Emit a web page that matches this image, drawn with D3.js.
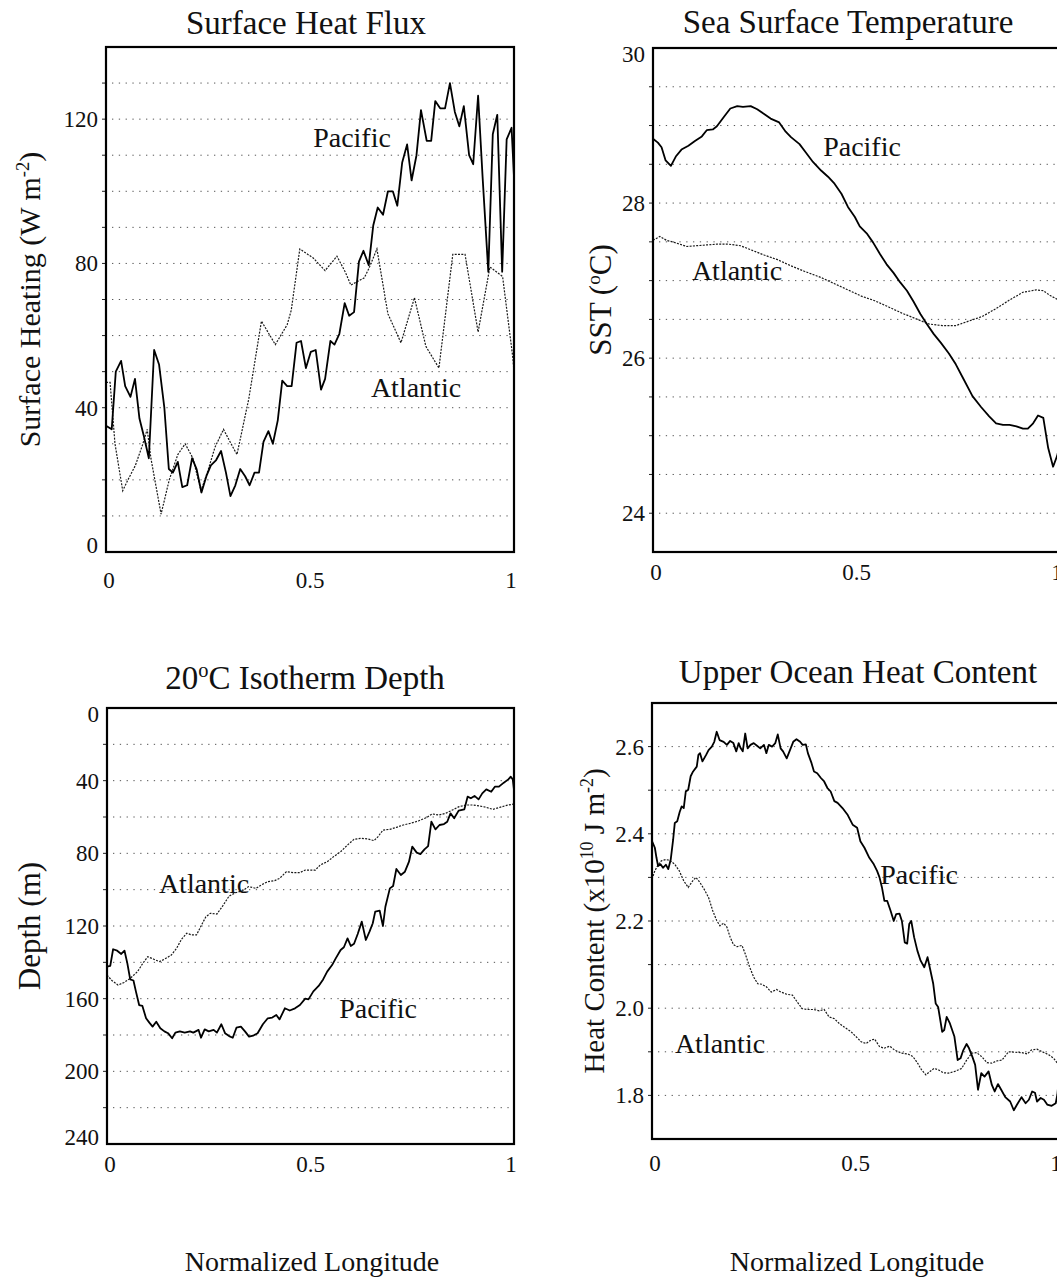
<!DOCTYPE html>
<html>
<head>
<meta charset="utf-8">
<script src="https://cdn.jsdelivr.net/npm/d3@7"></script>
<style>
  body { margin: 0; background: #fff; }
  svg { display: block; }
  text { font-family: "Liberation Serif", "Times New Roman", serif; fill: #111; }
</style>
</head>
<body>
<svg id="fig" width="1057" height="1279"></svg>
<script>

// ---- data: [normalized longitude, value] ----

var fluxPacific = [[0.000,35],[0.014,34],[0.024,50],[0.037,53],[0.047,46],[0.060,43],[0.071,48],[0.082,37],[0.093,32],[0.105,26],
  [0.118,56],[0.130,52],[0.143,40],[0.154,23],[0.164,22],[0.176,25],[0.187,18],[0.199,18.5],[0.211,26],[0.222,23],
  [0.234,16.5],[0.246,21],[0.257,24],[0.270,25.5],[0.282,28],[0.294,22],[0.305,15.5],[0.317,18.5],[0.329,23],[0.341,21],
  [0.352,18.5],[0.364,22],[0.375,22],[0.386,30.5],[0.398,33.5],[0.409,30],[0.421,36.5],[0.432,47.5],[0.444,46],[0.455,46],
  [0.467,58],[0.478,58.5],[0.490,51],[0.502,55.5],[0.514,56],[0.527,45],[0.537,48],[0.550,58.5],[0.560,57.5],[0.572,60.5],
  [0.585,69],[0.596,65.5],[0.608,66.5],[0.620,80.5],[0.631,83.5],[0.644,79.5],[0.655,90.5],[0.666,95.5],[0.679,93.5],[0.691,100],
  [0.703,100],[0.714,96],[0.726,108],[0.738,113],[0.749,103],[0.761,110],[0.772,122.5],[0.786,114],[0.797,114],[0.807,125],
  [0.819,123],[0.831,123],[0.843,130],[0.855,122],[0.866,118],[0.877,123.6],[0.890,110],[0.900,107.5],[0.912,126.5],[0.923,104],
  [0.937,77.7],[0.948,115.8],[0.959,121.2],[0.971,77.7],[0.982,114.4],[0.994,117.6],[1.000,104]];

var fluxAtlantic = [[0,47],[0.010,47],[0.022,30],[0.041,17],[0.056,20.5],[0.072,24],[0.089,29.5],[0.101,34],[0.110,26],[0.135,10.5],
  [0.155,20],[0.176,27],[0.194,30],[0.213,26],[0.233,17],[0.251,23],[0.267,29],[0.288,34],[0.309,29.5],[0.321,27],
  [0.350,42.5],[0.381,64],[0.415,57.5],[0.444,63],[0.454,67],[0.475,84],[0.508,81.5],[0.537,78],[0.566,82],[0.587,77.5],
  [0.600,74],[0.633,76],[0.644,78.5],[0.664,84],[0.691,66],[0.723,58],[0.756,70.5],[0.784,57],[0.816,51],[0.850,82.5],
  [0.880,82.5],[0.912,61],[0.941,79],[0.972,76.4],[0.997,54],[1.0,50]];

var sstPacific = [[0,28.83],[0.012,28.78],[0.021,28.72],[0.031,28.55],[0.044,28.48],[0.056,28.6],[0.070,28.69],[0.087,28.74],[0.103,28.8],[0.120,28.86],
  [0.132,28.94],[0.147,28.95],[0.157,28.99],[0.174,29.11],[0.190,29.22],[0.207,29.25],[0.221,29.24],[0.240,29.25],[0.256,29.21],[0.273,29.15],
  [0.289,29.09],[0.310,29.04],[0.326,28.92],[0.339,28.85],[0.360,28.76],[0.376,28.65],[0.393,28.53],[0.413,28.42],[0.430,28.34],[0.446,28.25],
  [0.463,28.12],[0.479,27.95],[0.496,27.82],[0.508,27.7],[0.525,27.61],[0.541,27.49],[0.558,27.34],[0.574,27.21],[0.591,27.1],[0.607,26.98],
  [0.624,26.87],[0.640,26.73],[0.657,26.57],[0.674,26.43],[0.690,26.31],[0.707,26.2],[0.727,26.06],[0.744,25.92],[0.760,25.76],[0.785,25.51],
  [0.806,25.37],[0.826,25.25],[0.843,25.16],[0.860,25.14],[0.876,25.14],[0.893,25.12],[0.909,25.09],[0.921,25.09],[0.934,25.16],[0.946,25.26],
  [0.959,25.23],[0.971,24.84],[0.983,24.6],[0.993,24.74],[1.0,24.9]];

var sstAtlantic = [[0,27.52],[0.017,27.57],[0.033,27.52],[0.054,27.49],[0.083,27.44],[0.107,27.45],[0.132,27.46],[0.157,27.47],[0.186,27.47],[0.215,27.45],
  [0.244,27.39],[0.273,27.33],[0.306,27.27],[0.339,27.19],[0.372,27.12],[0.413,27.04],[0.446,26.96],[0.479,26.88],[0.512,26.8],[0.545,26.74],
  [0.579,26.66],[0.612,26.58],[0.645,26.51],[0.678,26.44],[0.711,26.42],[0.744,26.42],[0.777,26.48],[0.810,26.54],[0.843,26.64],[0.876,26.75],
  [0.909,26.85],[0.942,26.88],[0.959,26.87],[0.975,26.81],[1.0,26.74]];

var depthPacific = [[0,142.4],[0.008,142],[0.015,132.8],[0.025,133.6],[0.035,135.4],[0.043,133.6],[0.050,140.6],[0.057,149.4],[0.065,150],[0.071,156],
  [0.079,163.5],[0.087,164],[0.096,170.8],[0.104,173.2],[0.112,175.4],[0.121,172.7],[0.131,176.3],[0.141,178],[0.150,179],[0.160,181.8],
  [0.168,178.7],[0.179,178],[0.191,178.7],[0.204,178],[0.212,178.7],[0.225,177.2],[0.231,181.5],[0.240,176.9],[0.250,178],[0.262,177.2],
  [0.270,178.7],[0.281,174.1],[0.290,179],[0.300,180.6],[0.309,181.5],[0.318,176],[0.329,175.4],[0.339,178],[0.349,180.9],[0.359,180.4],
  [0.370,179],[0.383,174.1],[0.395,170.8],[0.406,170.4],[0.416,169],[0.424,171.4],[0.437,165.3],[0.449,166.5],[0.462,165.3],[0.474,163.5],
  [0.487,160],[0.495,160.4],[0.507,156],[0.520,153],[0.531,149.4],[0.541,145.1],[0.553,141.5],[0.562,137.8],[0.574,133.2],[0.582,131.7],
  [0.591,126.8],[0.599,131],[0.607,129.8],[0.616,124.4],[0.626,117.6],[0.636,127.7],[0.645,123.1],[0.653,118.5],[0.659,112.1],[0.670,111.6],
  [0.678,120],[0.684,109.4],[0.695,99.3],[0.703,98],[0.711,88.6],[0.722,91.9],[0.732,90.1],[0.742,84.6],[0.750,76.3],[0.761,79.6],
  [0.770,80.4],[0.780,77.8],[0.789,76],[0.797,62.6],[0.807,66.8],[0.817,64.4],[0.828,63.9],[0.836,62.6],[0.844,58],[0.853,60.7],
  [0.864,56.5],[0.878,55.8],[0.886,48.8],[0.894,49.7],[0.903,48.4],[0.913,50.3],[0.922,47],[0.932,44.8],[0.944,46.1],[0.953,43.3],
  [0.963,43.3],[0.975,41.1],[0.986,39.3],[0.992,37.8],[0.997,39.3],[1.0,45.1]];

var depthAtlantic = [[0,147],[0.012,150],[0.027,152.5],[0.042,151.1],[0.057,148.8],[0.075,145.1],[0.087,140.9],[0.100,136.9],[0.115,138.3],[0.129,139.6],
  [0.141,138.3],[0.158,136],[0.171,132.3],[0.183,127.3],[0.196,124],[0.208,124.9],[0.220,124.9],[0.231,120],[0.243,114.9],[0.254,113],
  [0.270,113.4],[0.283,109.4],[0.300,103.5],[0.316,101.7],[0.333,100.6],[0.348,98.3],[0.366,99.3],[0.379,97.4],[0.395,95.6],[0.412,95],
  [0.424,93.8],[0.441,90.1],[0.458,90.6],[0.474,90.6],[0.487,89.2],[0.499,89.2],[0.512,89.2],[0.524,86.4],[0.541,84.6],[0.557,81.8],
  [0.574,79.1],[0.591,75.4],[0.607,72.3],[0.624,71.7],[0.641,72.1],[0.656,73],[0.666,70.8],[0.678,67.2],[0.695,66.8],[0.711,65.7],
  [0.728,64.4],[0.745,63.5],[0.765,62.2],[0.786,60.2],[0.799,58.3],[0.815,58.9],[0.832,58],[0.849,56.1],[0.865,54.3],[0.882,53.4],
  [0.899,53.4],[0.915,53.9],[0.932,54.7],[0.948,55.8],[0.965,54.7],[0.982,53.6],[1.0,52.8]];

var heatPacific = [[0,2.383],[0.007,2.368],[0.011,2.345],[0.015,2.326],[0.021,2.33],[0.027,2.322],[0.034,2.329],[0.040,2.319],[0.046,2.341],[0.052,2.387],
  [0.056,2.425],[0.062,2.429],[0.068,2.45],[0.073,2.463],[0.078,2.459],[0.083,2.497],[0.089,2.501],[0.095,2.532],[0.101,2.543],[0.110,2.554],
  [0.114,2.581],[0.118,2.585],[0.124,2.566],[0.133,2.581],[0.139,2.592],[0.147,2.6],[0.153,2.611],[0.159,2.634],[0.166,2.615],[0.176,2.611],
  [0.184,2.604],[0.192,2.613],[0.200,2.608],[0.207,2.589],[0.213,2.608],[0.217,2.598],[0.223,2.589],[0.229,2.63],[0.235,2.596],[0.242,2.604],
  [0.250,2.608],[0.258,2.602],[0.266,2.596],[0.275,2.604],[0.281,2.585],[0.287,2.604],[0.295,2.6],[0.303,2.608],[0.309,2.628],[0.316,2.596],
  [0.322,2.589],[0.331,2.573],[0.339,2.592],[0.347,2.611],[0.355,2.617],[0.364,2.611],[0.370,2.604],[0.378,2.605],[0.383,2.585],[0.392,2.562],
  [0.398,2.543],[0.406,2.539],[0.415,2.528],[0.423,2.52],[0.431,2.505],[0.439,2.497],[0.448,2.475],[0.456,2.471],[0.468,2.459],[0.481,2.443],
  [0.493,2.421],[0.504,2.414],[0.512,2.383],[0.522,2.368],[0.534,2.345],[0.545,2.33],[0.553,2.315],[0.559,2.3],[0.565,2.277],[0.571,2.246],
  [0.578,2.246],[0.586,2.224],[0.594,2.2],[0.600,2.216],[0.608,2.217],[0.614,2.2],[0.621,2.151],[0.627,2.148],[0.632,2.193],[0.637,2.2],
  [0.644,2.163],[0.652,2.132],[0.660,2.109],[0.669,2.094],[0.677,2.117],[0.683,2.091],[0.691,2.056],[0.697,2.011],[0.703,2.003],[0.713,1.946],
  [0.718,1.95],[0.724,1.98],[0.732,1.965],[0.743,1.935],[0.751,1.881],[0.758,1.885],[0.765,1.904],[0.773,1.918],[0.779,1.908],[0.787,1.889],
  [0.794,1.87],[0.801,1.813],[0.809,1.851],[0.817,1.843],[0.827,1.855],[0.835,1.824],[0.842,1.809],[0.850,1.826],[0.858,1.813],[0.868,1.796],
  [0.880,1.786],[0.889,1.766],[0.897,1.779],[0.908,1.796],[0.918,1.782],[0.926,1.79],[0.934,1.809],[0.941,1.806],[0.946,1.786],[0.955,1.794],
  [0.963,1.79],[0.971,1.779],[0.982,1.776],[0.992,1.782],[0.996,1.802],[1.0,1.84]];

var heatAtlantic = [[0,2.296],[0.007,2.315],[0.015,2.329],[0.023,2.338],[0.034,2.341],[0.044,2.339],[0.056,2.33],[0.067,2.315],[0.078,2.292],[0.089,2.277],
  [0.100,2.292],[0.108,2.3],[0.118,2.288],[0.128,2.273],[0.139,2.254],[0.149,2.224],[0.159,2.201],[0.167,2.189],[0.176,2.195],[0.184,2.186],
  [0.192,2.163],[0.200,2.146],[0.209,2.141],[0.221,2.144],[0.229,2.125],[0.240,2.094],[0.250,2.071],[0.260,2.056],[0.270,2.055],[0.281,2.049],
  [0.293,2.037],[0.306,2.043],[0.317,2.037],[0.331,2.032],[0.345,2.03],[0.357,2.014],[0.369,1.999],[0.382,1.997],[0.398,1.997],[0.411,1.994],
  [0.423,1.997],[0.435,1.98],[0.448,1.976],[0.460,1.965],[0.472,1.957],[0.489,1.946],[0.501,1.935],[0.514,1.923],[0.526,1.919],[0.538,1.927],
  [0.547,1.929],[0.559,1.912],[0.570,1.908],[0.584,1.913],[0.596,1.904],[0.613,1.897],[0.629,1.895],[0.641,1.889],[0.652,1.875],[0.662,1.859],
  [0.673,1.847],[0.683,1.855],[0.693,1.862],[0.703,1.859],[0.716,1.852],[0.728,1.851],[0.744,1.855],[0.761,1.862],[0.773,1.881],[0.786,1.897],
  [0.798,1.898],[0.810,1.889],[0.823,1.875],[0.835,1.874],[0.847,1.879],[0.860,1.881],[0.876,1.9],[0.893,1.899],[0.909,1.898],[0.922,1.895],
  [0.932,1.904],[0.946,1.906],[0.959,1.9],[0.975,1.893],[0.987,1.885],[0.996,1.874],[1.0,1.851]];

var xTicks = [0, 0.5, 1];
var fluxTicks = [0, 40, 80, 120];
var sstTicks = [24, 26, 28, 30];
var depthTicks = [0, 40, 80, 120, 160, 200, 240];
var heatTicks = [1.8, 2.0, 2.2, 2.4, 2.6];

// ---- layout ----

var svg = d3.select('#fig');

var panels = [
    { title: [['Surface Heat Flux']], tx: 306, ty: 34,
      left: 106, top: 47, w: 408, h: 505, domain: [0, 140], flip: false, step: 10,
      ticks: fluxTicks, fmt: d3.format('d'), xDy: 28,
      ylab: [['Surface Heating (W m'], ['-2', 'sup'], [')']], ylx: 40, yls: 30,
      pac: fluxPacific, atl: fluxAtlantic,
      pacLab: [352, 147], atlLab: [416, 397] },
    { title: [['Sea Surface Temperature']], tx: 848, ty: 33,
      left: 653, top: 48, w: 407, h: 504, domain: [23.5, 30], flip: false, step: 0.5,
      ticks: sstTicks, fmt: d3.format('d'), xDy: 20,
      ylab: [['SST ('], ['o', 'sup'], ['C)']], ylx: 611, yls: 31,
      pac: sstPacific, atl: sstAtlantic,
      pacLab: [862, 156], atlLab: [737, 280] },
    { title: [['20'], ['o', 'sup'], ['C Isotherm Depth']], tx: 305, ty: 689,
      left: 107, top: 708, w: 407, h: 436, domain: [0, 240], flip: true, step: 20,
      ticks: depthTicks, fmt: d3.format('d'), xDy: 20,
      ylab: [['Depth (m)']], ylx: 40, yls: 31,
      pac: depthPacific, atl: depthAtlantic,
      pacLab: [378, 1018], atlLab: [204, 893] },
    { title: [['Upper Ocean Heat Content']], tx: 858, ty: 683,
      left: 652, top: 703, w: 407, h: 436, domain: [1.7, 2.7], flip: false, step: 0.1,
      ticks: heatTicks, fmt: d3.format('.1f'), xDy: 24,
      ylab: [['Heat Content (x10'], ['10', 'sup'], [' J m'], ['-2', 'sup'], [')']], ylx: 604, yls: 29,
      pac: heatPacific, atl: heatAtlantic,
      pacLab: [919, 884], atlLab: [720, 1053] }
];

function richText(sel, parts, size) {
    parts.forEach(function(p) {
        var t = sel.append('tspan').text(p[0]);
        if (p[1] == 'sup') {
            t.attr('font-size', size * 0.62).attr('baseline-shift', '60%');
        }
    });
}

panels.forEach(function(p) {

    var x = d3.scaleLinear().domain([0, 1]).range([p.left, p.left + p.w]);
    var y = d3.scaleLinear().domain(p.domain)
              .range(p.flip ? [p.top, p.top + p.h] : [p.top + p.h, p.top]);

    var g = svg.append('g');

    // dotted grid + small outside ticks
    var levels = d3.range(p.domain[0], p.domain[1] + p.step / 2, p.step)
                   .map(function(v) { return +v.toFixed(3); })
                   .filter(function(v) { return v > p.domain[0] + 1e-6 && v < p.domain[1] - 1e-6; });

    g.selectAll('.grid').data(levels).enter().append('line')
        .attr('x1', p.left + 6).attr('x2', p.left + p.w)
        .attr('y1', function(d) { return y(d); }).attr('y2', function(d) { return y(d); })
        .attr('stroke', '#555').attr('stroke-width', 1)
        .attr('stroke-dasharray', '1.3,5.5');

    g.selectAll('.tk').data(levels).enter().append('line')
        .attr('x1', p.left - 4).attr('x2', p.left)
        .attr('y1', function(d) { return y(d); }).attr('y2', function(d) { return y(d); })
        .attr('stroke', '#222').attr('stroke-width', 1);

    // series
    var line = d3.line().x(function(d) { return x(d[0]); }).y(function(d) { return y(d[1]); });

    g.append('path').datum(p.atl).attr('d', line)
        .attr('fill', 'none').attr('stroke', '#1a1a1a').attr('stroke-width', 1.2)
        .attr('stroke-dasharray', '2,1.3');

    g.append('path').datum(p.pac).attr('d', line)
        .attr('fill', 'none').attr('stroke', '#000').attr('stroke-width', 1.8)
        .attr('stroke-linejoin', 'round');

    // frame
    g.append('rect')
        .attr('x', p.left).attr('y', p.top).attr('width', p.w).attr('height', p.h)
        .attr('fill', 'none').attr('stroke', '#000').attr('stroke-width', 2.2);

    // y tick labels (edge labels pushed inside a bit)
    g.selectAll('.ylab').data(p.ticks).enter().append('text')
        .attr('x', p.left - 8)
        .attr('y', function(d) {
            var yy = y(d);
            if (Math.abs(yy - p.top) < 1) yy += 6;
            if (Math.abs(yy - (p.top + p.h)) < 1) yy -= 7;
            return yy;
        })
        .attr('dy', '0.35em')
        .attr('text-anchor', 'end')
        .attr('font-size', 23)
        .text(p.fmt);

    // x tick labels
    g.selectAll('.xlab').data(xTicks).enter().append('text')
        .attr('x', function(d) { return x(d) + (d == 0 ? 3 : (d == 1 ? -3 : 0)); })
        .attr('y', p.top + p.h + p.xDy)
        .attr('dy', '0.35em')
        .attr('text-anchor', 'middle')
        .attr('font-size', 23)
        .text(function(d) { return d; });

    // title
    var t = g.append('text').attr('x', p.tx).attr('y', p.ty)
        .attr('text-anchor', 'middle').attr('font-size', 33);
    richText(t, p.title, 33);

    // y axis title
    var yl = g.append('text')
        .attr('transform', 'translate(' + p.ylx + ',' + (p.top + p.h / 2) + ') rotate(-90)')
        .attr('text-anchor', 'middle').attr('font-size', p.yls);
    richText(yl, p.ylab, p.yls);

    // series labels
    g.append('text').attr('x', p.pacLab[0]).attr('y', p.pacLab[1])
        .attr('text-anchor', 'middle').attr('font-size', 28).text('Pacific');
    g.append('text').attr('x', p.atlLab[0]).attr('y', p.atlLab[1])
        .attr('text-anchor', 'middle').attr('font-size', 28).text('Atlantic');

    if (p.flip || p.step == 0.1) {
        g.append('text').attr('x', p.left + 205).attr('y', 1271)
            .attr('text-anchor', 'middle').attr('font-size', 28)
            .text('Normalized Longitude');
    }
});

</script>
</body>
</html>
